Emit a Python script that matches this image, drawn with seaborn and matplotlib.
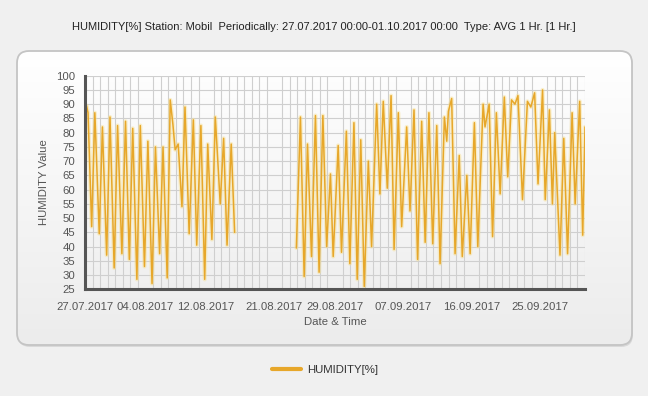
import numpy as np
import pandas as pd
import matplotlib
matplotlib.use("Agg")
import matplotlib.pyplot as plt
import matplotlib.dates as mdates
from matplotlib.patches import FancyBboxPatch
from matplotlib.lines import Line2D
import seaborn as sns

# ---------------- data (turning points) ----------------
start = "2017-07-27 00:00"
end = "2017-10-01 00:00"

# day offsets from start, and humidity values [%]
seg1_days = [0.00, 0.20, 0.40, 0.88, 1.30, 1.88, 2.30, 2.86, 3.30, 3.85,
             4.30, 4.87, 5.35, 5.85, 6.30, 6.85, 7.30, 7.85, 8.30, 8.85,
             9.30, 9.85, 10.30, 10.85, 11.25, 11.60, 11.90, 12.30, 12.80, 13.20,
             13.75, 14.30, 14.75, 15.30, 15.80, 16.20, 16.75, 17.20, 17.85, 18.30,
             18.75, 19.30, 19.75]
seg1_vals = [80, 89.5, 87, 47, 87, 44.5, 82, 37, 85.5, 32.5,
             82.5, 37.5, 84, 35.5, 81.5, 28.5, 82.5, 33, 77, 27,
             75, 37.5, 75, 29, 91.5, 83, 74, 76, 54, 89,
             44.5, 84.5, 40.5, 82.5, 28.5, 76, 42.5, 85.5, 55, 78,
             40.5, 76, 45]

seg2_days = [27.90, 28.44, 28.93, 29.37, 29.90, 30.42, 30.90, 31.40, 31.90, 32.40,
             32.76, 33.42, 33.86, 34.50, 34.96, 35.50, 35.93, 36.40, 36.86, 37.40,
             37.83, 38.50, 38.93, 39.37, 39.90, 40.40, 40.80, 41.36, 41.80, 42.46,
             42.90, 43.43, 43.90, 44.44, 44.90, 45.40, 45.90, 46.43, 46.87, 47.44,
             47.75, 47.97, 48.40, 48.85, 49.40, 49.80, 50.40, 50.84, 51.40, 51.85,
             52.55, 52.80, 53.35, 53.80, 54.30, 54.80, 55.35, 55.80, 56.30, 56.75,
             57.15, 57.75, 58.40, 58.85, 59.35, 59.80, 60.40, 60.75, 61.30, 61.70,
             62.00, 62.70, 63.20, 63.70, 64.30, 64.70, 65.30, 65.70, 66.00]
seg2_vals = [39.5, 85.5, 29.5, 76, 36.5, 86, 31, 86, 40, 65.5,
             36.5, 75.5, 38, 80.5, 34, 83.5, 28.5, 77.5, 26, 70,
             40, 90, 58.5, 91, 60.5, 93, 39, 87, 47, 82,
             52.5, 88, 35.5, 84, 41.5, 87, 41, 82.5, 34, 85.5,
             77, 87.5, 92, 37.5, 72, 36.5, 65, 37.5, 83.5, 40,
             90, 82, 90, 43.5, 87, 58.5, 92.5, 64.5, 91.5, 90,
             93, 56.5, 91, 89, 94, 62, 95, 56.5, 88, 55,
             80, 37, 78, 37.5, 87, 55, 91, 44, 82]

date_tick_labels = ["27.07.2017", "04.08.2017", "12.08.2017", "21.08.2017",
                    "29.08.2017", "07.09.2017", "16.09.2017", "25.09.2017"]
y_ticks = list(range(25, 101, 5))

series_name = "HUMIDITY[%]"
title = ("HUMIDITY[%] Station: Mobil  Periodically: 27.07.2017 00:00-01.10.2017 00:00"
         "  Type: AVG 1 Hr. [1 Hr.]")

# ---------------- build table ----------------
t0 = pd.Timestamp(start)
df = pd.concat([
    pd.DataFrame({"time": t0 + pd.to_timedelta(seg1_days, unit="D"),
                  "value": seg1_vals, "segment": 1}),
    pd.DataFrame({"time": t0 + pd.to_timedelta(seg2_days, unit="D"),
                  "value": seg2_vals, "segment": 2}),
], ignore_index=True)

# ---------------- style ----------------
sns.set_style("white")
plt.rcParams["font.family"] = ["Liberation Sans", "DejaVu Sans"]

W, H = 648, 396
fig = plt.figure(figsize=(W / 100, H / 100), dpi=100)
fig.patch.set_facecolor("#f0f0f0")

# background panel with gradient, in pixel coordinates
bg = fig.add_axes([0, 0, 1, 1], zorder=-10)
bg.set_xlim(0, W)
bg.set_ylim(H, 0)
bg.axis("off")
px0, py0, pw, ph = 17, 51, 615, 294
grad = np.linspace(0, 1, 256)[:, None]
cmap = matplotlib.colors.LinearSegmentedColormap.from_list("g", ["#ffffff", "#ececec"])
shadow = FancyBboxPatch((px0 + 1, py0 + 2), pw, ph,
                        boxstyle="round,pad=0,rounding_size=12",
                        facecolor="#d9d9d9", edgecolor="none", transform=bg.transData)
bg.add_patch(shadow)
panel = FancyBboxPatch((px0, py0), pw, ph, boxstyle="round,pad=0,rounding_size=12",
                       facecolor="none", edgecolor="#c4c4c4", linewidth=1.3,
                       transform=bg.transData, zorder=3)
bg.add_patch(panel)
im = bg.imshow(grad, extent=(px0, px0 + pw, py0 + ph, py0), cmap=cmap,
               aspect="auto", zorder=2)
im.set_clip_path(panel)

# main axes
ax_l, ax_r, ax_t, ax_b = 85, 585, 75.7, 289.3
ax = fig.add_axes([ax_l / W, 1 - ax_b / H, (ax_r - ax_l) / W, (ax_b - ax_t) / H])
ax.set_facecolor("none")

line_color = "#E7A72A"
# soft glow beneath the line
sns.lineplot(data=df, x="time", y="value", units="segment", estimator=None,
             color="#f8e08f", linewidth=3.0, alpha=0.45, ax=ax, legend=False,
             sort=False)
sns.lineplot(data=df, x="time", y="value", units="segment", estimator=None,
             color=line_color, linewidth=1.1, ax=ax, legend=False, sort=False)

ax.set_xlim(pd.Timestamp(start), pd.Timestamp(end))
ax.set_ylim(25, 100)

tick_dates = pd.to_datetime(date_tick_labels, format="%d.%m.%Y")
ax.set_xticks(tick_dates)
ax.set_xticklabels(date_tick_labels)
ax.xaxis.set_minor_locator(mdates.DayLocator())
ax.set_yticks(y_ticks)
ax.set_yticklabels([str(v) for v in y_ticks])
ax.yaxis.set_minor_locator(matplotlib.ticker.MultipleLocator(2.5))

ax.grid(False)
ax.grid(True, axis="x", which="minor", color="#cfcfcf", linewidth=0.8)
ax.grid(True, axis="y", which="major", color="#cfcfcf", linewidth=0.8)
ax.set_axisbelow(True)

for s in ["top", "right"]:
    ax.spines[s].set_visible(False)
for s in ["left", "bottom"]:
    ax.spines[s].set_color("#555555")
    ax.spines[s].set_linewidth(2.2)

ax.tick_params(axis="both", which="both", colors="#555555", direction="out")
ax.tick_params(axis="x", which="both", length=5, width=1.6, labelsize=8.2,
               labelcolor="#555555", pad=4.5)
ax.tick_params(axis="y", which="major", length=5, width=1.6, labelsize=8.2,
               labelcolor="#555555", pad=2)
ax.tick_params(axis="y", which="minor", length=3, width=1.4)

ax.set_xlabel("Date & Time", fontsize=8.2, color="#555555", labelpad=3.5)
ax.set_ylabel("HUMIDITY Value", fontsize=8.2, color="#555555", labelpad=5)

fig.text(324 / W, 1 - 27 / H, title, ha="center", va="center", fontsize=8.0,
         color="#222222")

handle = Line2D([0], [0], color=line_color, linewidth=3)
fig.legend([handle], [series_name], loc="center", bbox_to_anchor=(325 / W, 1 - 370 / H),
           frameon=False, fontsize=8.2, handlelength=2.6, handletextpad=0.5,
           labelcolor="#333333")

fig.savefig("out.png", dpi=100, facecolor=fig.get_facecolor())
